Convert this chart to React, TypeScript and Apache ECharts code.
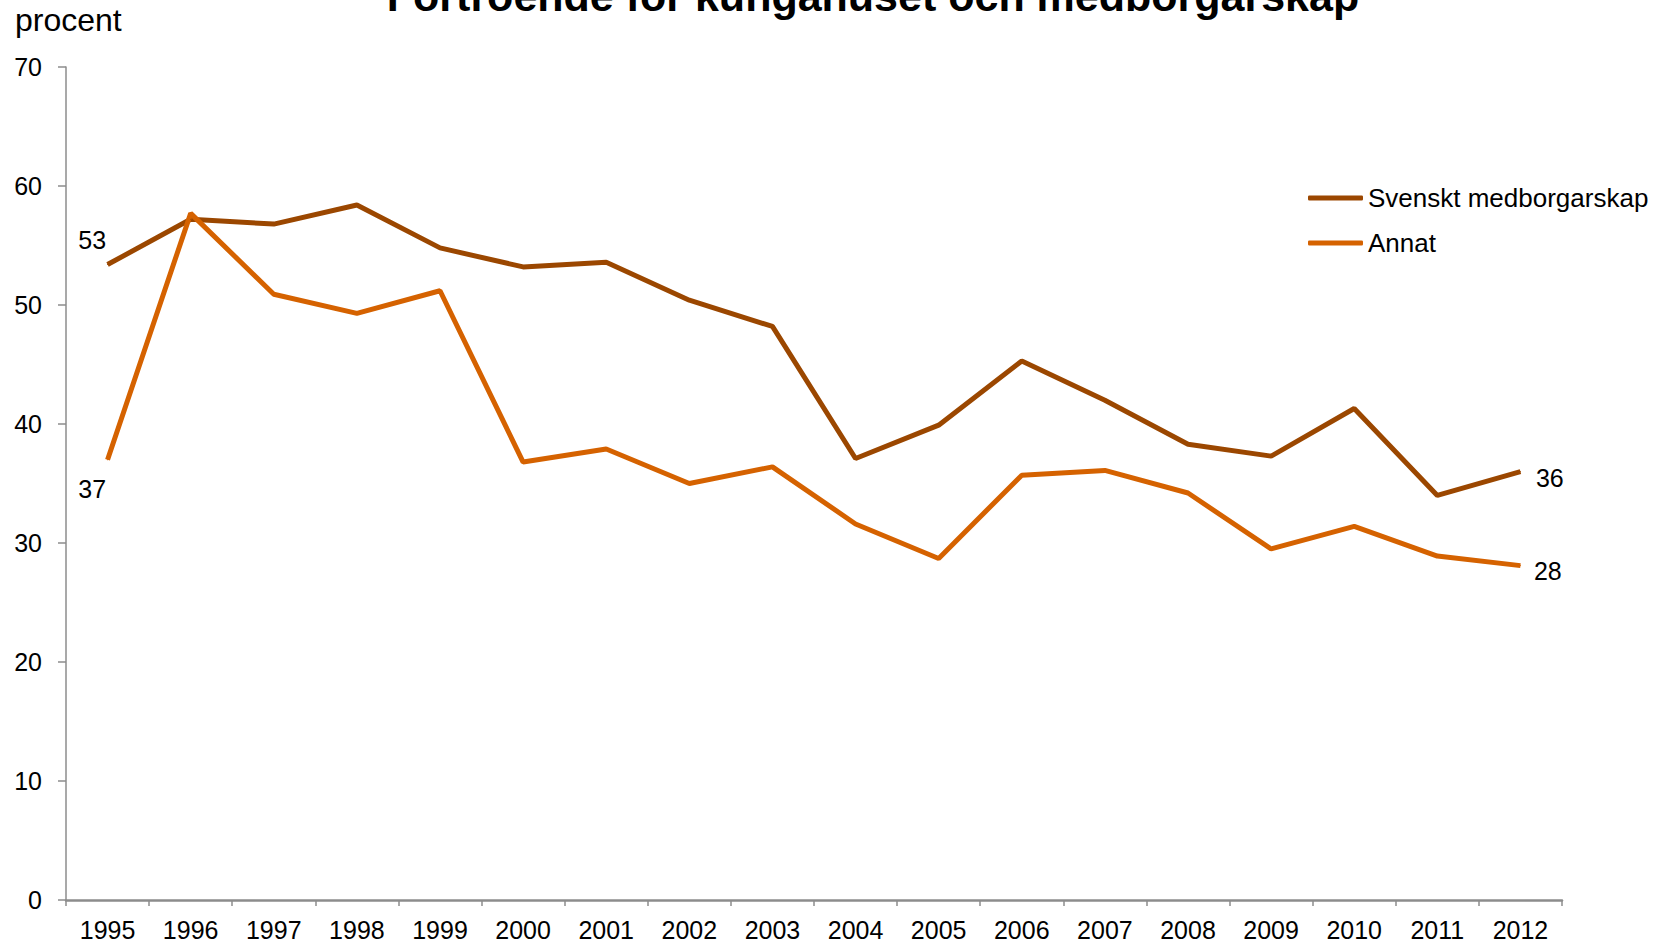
import React, { useEffect, useRef } from "react";
import * as echarts from "echarts";

const years = ["1995","1996","1997","1998","1999","2000","2001","2002","2003","2004","2005","2006","2007","2008","2009","2010","2011","2012"];
const svenskt = [53.4, 57.2, 56.8, 58.4, 54.8, 53.2, 53.6, 50.4, 48.2, 37.1, 39.9, 45.3, 42.0, 38.3, 37.3, 41.3, 34.0, 36.0];
const annat = [37.0, 57.7, 50.9, 49.3, 51.2, 36.8, 37.9, 35.0, 36.4, 31.6, 28.7, 35.7, 36.1, 34.2, 29.5, 31.4, 28.9, 28.1];
const seriesNames = ["Svenskt medborgarskap", "Annat"];
const colors = ["#9B4700", "#D56200"];
const titleText = "Förtroende för kungahuset och medborgarskap";
const yUnit = "procent";

const FONT = "'Liberation Sans', Arial, sans-serif";

function withEndLabels(values: number[], firstOffset: number[], lastOffset: number[]) {
  return values.map((v, i) => {
    if (i === 0) {
      return {
        value: v,
        label: { show: true, position: "left", distance: 5, offset: firstOffset, formatter: String(Math.round(v)), fontSize: 25, color: "#000", fontFamily: FONT },
      };
    }
    if (i === values.length - 1) {
      return {
        value: v,
        label: { show: true, position: "right", distance: 5, offset: lastOffset, formatter: String(Math.round(v)), fontSize: 25, color: "#000", fontFamily: FONT },
      };
    }
    return v;
  });
}

export default function App() {
  const ref = useRef<HTMLDivElement>(null);
  useEffect(() => {
    document.body.style.margin = "0";
    const chart = echarts.init(ref.current!, null, { renderer: "svg" });
    chart.setOption({
      animation: false,
      textStyle: { fontFamily: FONT },
      grid: { left: 66, right: 95, top: 67, bottom: 42, containLabel: false },
      graphic: [
        {
          type: "text",
          x: 873,
          y: -4,
          style: { text: titleText, font: `bold 43px ${FONT}`, fill: "#000", textAlign: "center", textVerticalAlign: "middle" },
        },
        {
          type: "text",
          x: 15,
          y: 4,
          style: { text: yUnit, font: `32px ${FONT}`, fill: "#000", textAlign: "left", textVerticalAlign: "top" },
        },
      ],
      legend: {
        orient: "vertical",
        left: 1303,
        top: 180,
        itemWidth: 55,
        itemHeight: 5,
        itemGap: 19,
        icon: "roundRect",
        textStyle: { fontSize: 26, color: "#000", fontFamily: FONT },
        data: seriesNames,
      },
      xAxis: {
        type: "category",
        data: years,
        boundaryGap: true,
        axisLine: { lineStyle: { color: "#8c8c8c", width: 2.5 } },
        axisTick: { show: true, length: 6, alignWithLabel: false, lineStyle: { color: "#8c8c8c", width: 1.5 } },
        axisLabel: { fontSize: 25, color: "#000", margin: 17, interval: 0, fontFamily: FONT },
        splitLine: { show: false },
      },
      yAxis: {
        type: "value",
        min: 0,
        max: 70,
        interval: 10,
        axisLine: { show: true, lineStyle: { color: "#8c8c8c", width: 1.5 } },
        axisTick: { show: true, length: 8, lineStyle: { color: "#8c8c8c", width: 1.5 } },
        axisLabel: { fontSize: 25, color: "#000", margin: 24, fontFamily: FONT },
        splitLine: { show: false },
      },
      series: [
        {
          name: seriesNames[0],
          type: "line",
          data: withEndLabels(svenskt, [4, -25], [10, 6]),
          symbol: "circle",
          symbolSize: 1,
          showSymbol: true,
          showAllSymbol: true,
          lineStyle: { color: colors[0], width: 5 },
          itemStyle: { color: colors[0] },
        },
        {
          name: seriesNames[1],
          type: "line",
          data: withEndLabels(annat, [4, 29], [8, 5]),
          symbol: "circle",
          symbolSize: 1,
          showSymbol: true,
          showAllSymbol: true,
          lineStyle: { color: colors[1], width: 5 },
          itemStyle: { color: colors[1] },
        },
      ],
    });
    return () => chart.dispose();
  }, []);
  return <div ref={ref} style={{ position: "absolute", left: 0, top: 0, width: 1657, height: 942 }} />;
}
